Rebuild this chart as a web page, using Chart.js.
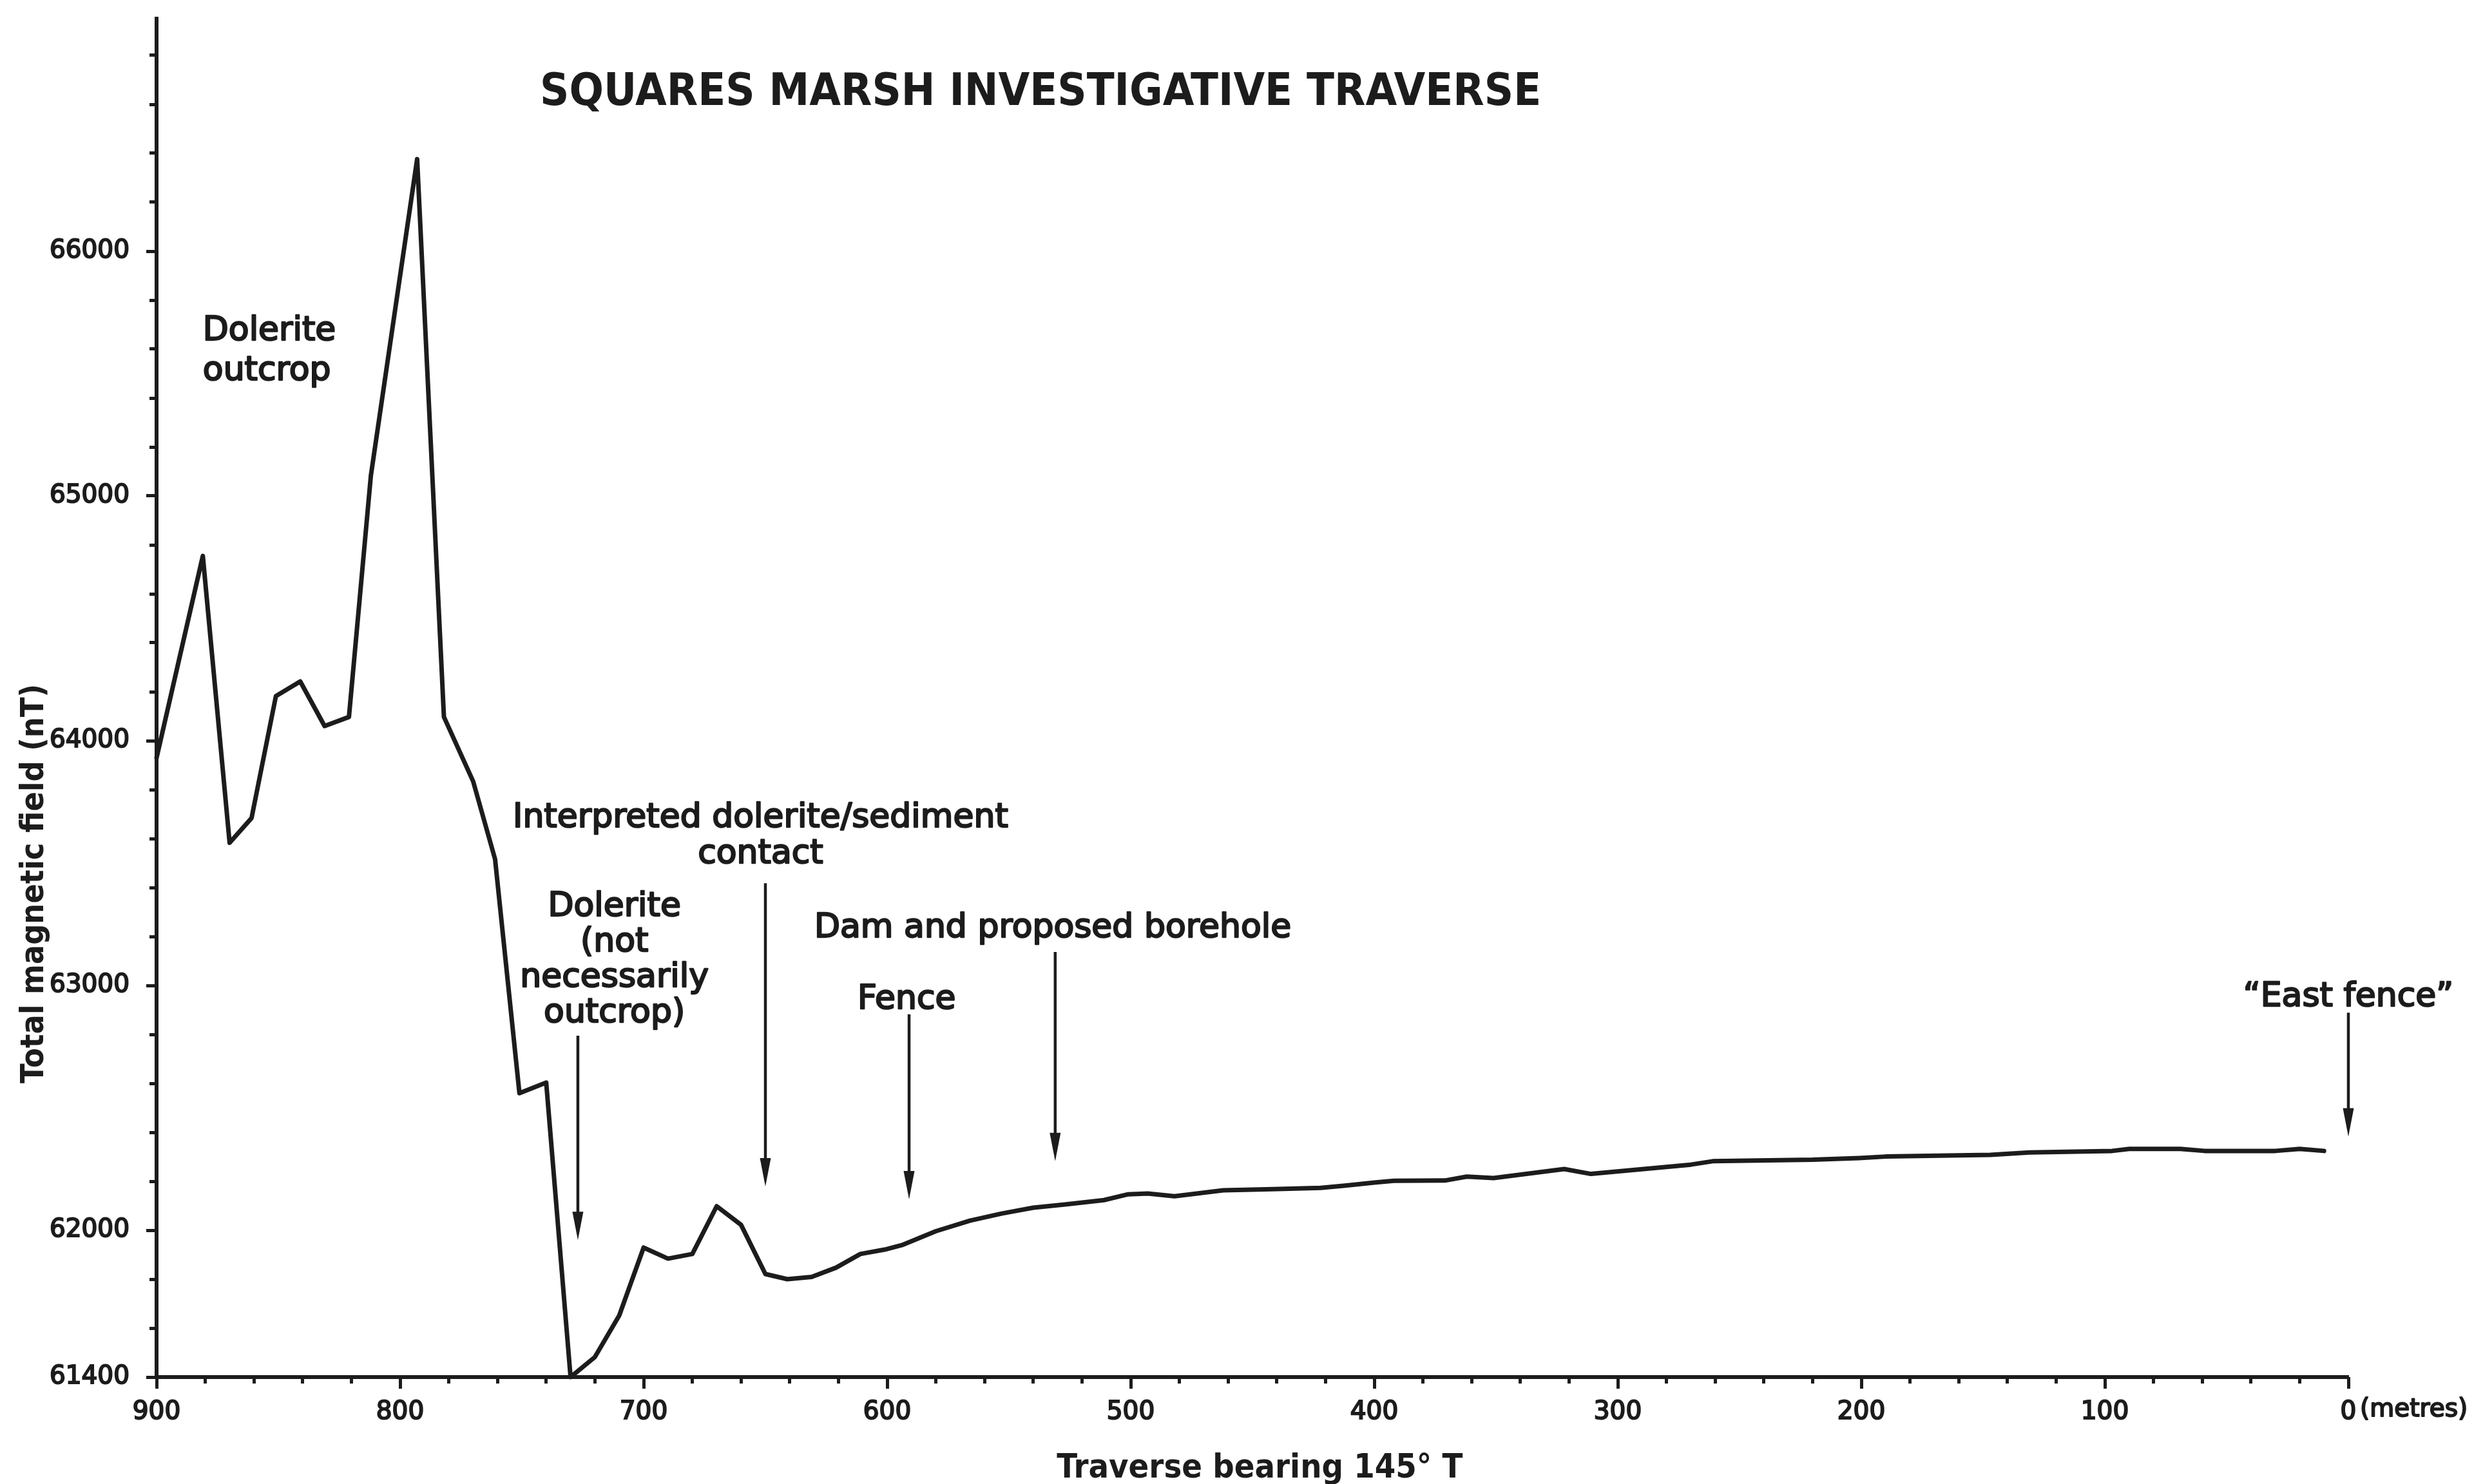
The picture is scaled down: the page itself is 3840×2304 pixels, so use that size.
<!DOCTYPE html>
<html>
<head>
<meta charset="utf-8">
<script src="https://cdn.jsdelivr.net/npm/chart.js@4.4.1/dist/chart.umd.min.js"></script>
<style>
  html, body { margin: 0; padding: 0; background: #fff; }
  #wrap { width: 3840px; height: 2304px; }
</style>
</head>
<body>
<div id="wrap"><canvas id="traverse" width="3840" height="2304"></canvas></div>
<script>
// stations along the traverse (metres) and the total field read there (nT)
const stations = [900, 881, 870, 861, 851, 841, 831, 821, 812, 793,
  782, 770, 761, 751, 740, 730, 720, 710, 700, 690,
  680, 670, 660, 650, 641, 631, 621, 611, 601, 594,
  580, 566, 553, 540, 527, 511, 501, 493, 482, 462,
  442, 422, 412, 400, 392, 371, 362, 351, 322, 311,
  270, 261, 220, 201, 190, 147, 131, 97, 90, 69,
  59, 30, 20, 10];
const fieldNT = [63930, 64755, 63583, 63684, 64182, 64242, 64060, 64097, 65083, 66376,
  64097, 63834, 63516, 62560, 62603, 61400, 61482, 61652, 61929, 61884,
  61903, 62098, 62022, 61821, 61800, 61809, 61847, 61903, 61921, 61939,
  61996, 62039, 62068, 62092, 62105, 62123, 62147, 62150, 62139, 62163,
  62168, 62173, 62182, 62195, 62202, 62203, 62219, 62213, 62250, 62230,
  62268, 62282, 62288, 62295, 62301, 62308, 62318, 62324, 62332, 62332,
  62324, 62324, 62332, 62324];

// labelled ticks on the field axis
const yLabelTicks = [61400, 62000, 63000, 64000, 65000, 66000];

// notes on the profile, arrows pointing down at a station
const noteText = [
  ['Dolerite', 'outcrop'],
  ['Interpreted dolerite/sediment', 'contact'],
  ['Dolerite', '(not', 'necessarily', 'outcrop)'],
  ['Dam and proposed borehole'],
  ['Fence'],
  ['\u201CEast fence\u201D']
];
const noteStation = [881, 652, 712, 532, 592, 0];
const noteField = [65637, 63647, 63284, 63197, 62905, 62916];
const noteAlign = ['left', 'center', 'center', 'center', 'center', 'center'];
const noteLead = [62, 56, 55, 56, 56, 56];

const arrowStation = [727, 650, 591, 531, 0];
const arrowFrom = [62795, 63418, 62882, 63137, 62889];
const arrowTo = [61960, 62179, 62126, 62282, 62383];

const ink = '#1c1c1c';
const face = '"DejaVu Sans", sans-serif';
const narrow = '"DejaVu Sans Condensed", "DejaVu Sans", sans-serif';

function say(ctx, str, x, y, font, align, thick) {
  ctx.font = font;
  ctx.textAlign = align;
  ctx.textBaseline = 'alphabetic';
  ctx.fillStyle = ink;
  ctx.fillText(str, x, y);
  if (thick) {
    ctx.lineWidth = thick;
    ctx.strokeStyle = ink;
    ctx.lineJoin = 'round';
    ctx.strokeText(str, x, y);
  }
}

const annotate = {
  id: 'annotate',
  afterDraw(chart) {
    const { ctx, chartArea } = chart;
    const x = chart.scales.x, y = chart.scales.y;
    ctx.save();

    // arrows
    ctx.strokeStyle = ink;
    ctx.fillStyle = ink;
    arrowStation.forEach((m, i) => {
      const px = x.getPixelForValue(m);
      const top = y.getPixelForValue(arrowFrom[i]);
      const tip = y.getPixelForValue(arrowTo[i]);
      ctx.lineWidth = 4.5;
      ctx.beginPath();
      ctx.moveTo(px, top);
      ctx.lineTo(px, tip - 30);
      ctx.stroke();
      ctx.beginPath();
      ctx.moveTo(px - 8.5, tip - 44);
      ctx.lineTo(px + 8.5, tip - 44);
      ctx.lineTo(px, tip);
      ctx.closePath();
      ctx.fill();
    });

    // notes
    noteText.forEach((lines, i) => {
      const px = x.getPixelForValue(noteStation[i]);
      const py = y.getPixelForValue(noteField[i]);
      lines.forEach((line, k) => {
        say(ctx, line, px, py + k * noteLead[i], '52px ' + face, noteAlign[i], 2.4);
      });
    });

    // heading
    say(ctx, 'SQUARES MARSH INVESTIGATIVE TRAVERSE', x.getPixelForValue(537), y.getPixelForValue(66597),
      'bold 70px ' + narrow, 'center', 0);

    // axis titles
    say(ctx, 'Traverse bearing 145\u00B0 T', x.getPixelForValue(447), chartArea.bottom + 156,
      'bold 52px ' + narrow, 'center', 0);
    ctx.save();
    ctx.translate(chartArea.left - 189, y.getPixelForValue(63416));
    ctx.rotate(-Math.PI / 2);
    ctx.font = 'bold 50px ' + narrow;
    ctx.textAlign = 'center';
    ctx.textBaseline = 'middle';
    ctx.fillStyle = ink;
    ctx.fillText('Total magnetic field (nT)', 0, 0);
    ctx.restore();

    // unit after the 0 label
    const xo = x.options;
    ctx.font = '39px ' + face;
    ctx.textAlign = 'left';
    ctx.textBaseline = 'top';
    ctx.fillStyle = ink;
    ctx.lineWidth = 2;
    ctx.strokeStyle = ink;
    const ly = x.top + xo.grid.tickLength + xo.ticks.padding;
    ctx.fillText('(metres)', x.getPixelForValue(0) + 18, ly);
    ctx.strokeText('(metres)', x.getPixelForValue(0) + 18, ly);

    ctx.restore();
  }
};

new Chart(document.getElementById('traverse'), {
  type: 'line',
  data: {
    datasets: [{
      data: stations.map((m, i) => ({ x: m, y: fieldNT[i] })),
      borderColor: ink,
      borderWidth: 7,
      borderJoinStyle: 'round',
      borderCapStyle: 'round',
      pointRadius: 0,
      tension: 0,
      fill: false,
      clip: false
    }]
  },
  options: {
    responsive: false,
    devicePixelRatio: 1,
    animation: false,
    layout: { padding: { top: 29, right: 195, bottom: 0, left: 0 } },
    plugins: { legend: { display: false }, tooltip: { enabled: false }, title: { display: false } },
    scales: {
      x: {
        type: 'linear',
        position: 'bottom',
        weight: 1,
        min: 0,
        max: 900,
        reverse: true,
        afterFit: s => { s.height = 166; s.paddingLeft = 0; s.paddingRight = 0; },
        border: { display: true, color: ink, width: 6 },
        grid: { drawOnChartArea: false, color: ink, tickColor: ink, tickLength: 18, tickWidth: 5 },
        ticks: {
          stepSize: 100, autoSkip: false, maxRotation: 0, padding: 13,
          color: ink, font: { family: face, size: 39 },
          textStrokeColor: ink, textStrokeWidth: 2,
          callback: v => String(v)
        }
      },
      xMinor: {
        type: 'linear',
        axis: 'x',
        position: 'bottom',
        weight: 0,
        min: 0,
        max: 900,
        reverse: true,
        afterFit: s => { s.height = 0; s.paddingLeft = 0; s.paddingRight = 0; },
        border: { display: false },
        grid: { drawOnChartArea: false, color: ink, tickColor: ink, tickLength: 10, tickWidth: 5 },
        ticks: { stepSize: 20, autoSkip: false, display: false }
      },
      y: {
        type: 'linear',
        position: 'left',
        weight: 1,
        min: 61400,
        max: 66950,
        afterFit: s => { s.width = 243; s.paddingTop = 0; s.paddingBottom = 0; },
        afterBuildTicks: s => { s.ticks = yLabelTicks.map(v => ({ value: v })); },
        border: { display: true, color: ink, width: 6 },
        grid: { drawOnChartArea: false, color: ink, tickColor: ink, tickLength: 16, tickWidth: 5 },
        ticks: {
          autoSkip: false, padding: 26,
          color: ink, font: { family: face, size: 39 },
          textStrokeColor: ink, textStrokeWidth: 2,
          callback: v => String(v)
        }
      },
      yMinor: {
        type: 'linear',
        axis: 'y',
        position: 'left',
        weight: 0,
        min: 61400,
        max: 66950,
        afterFit: s => { s.width = 0; s.paddingTop = 0; s.paddingBottom = 0; },
        border: { display: false },
        grid: { drawOnChartArea: false, color: ink, tickColor: ink, tickLength: 11, tickWidth: 5 },
        ticks: { stepSize: 200, autoSkip: false, display: false, includeBounds: false }
      }
    }
  },
  plugins: [annotate]
});
</script>
</body>
</html>
